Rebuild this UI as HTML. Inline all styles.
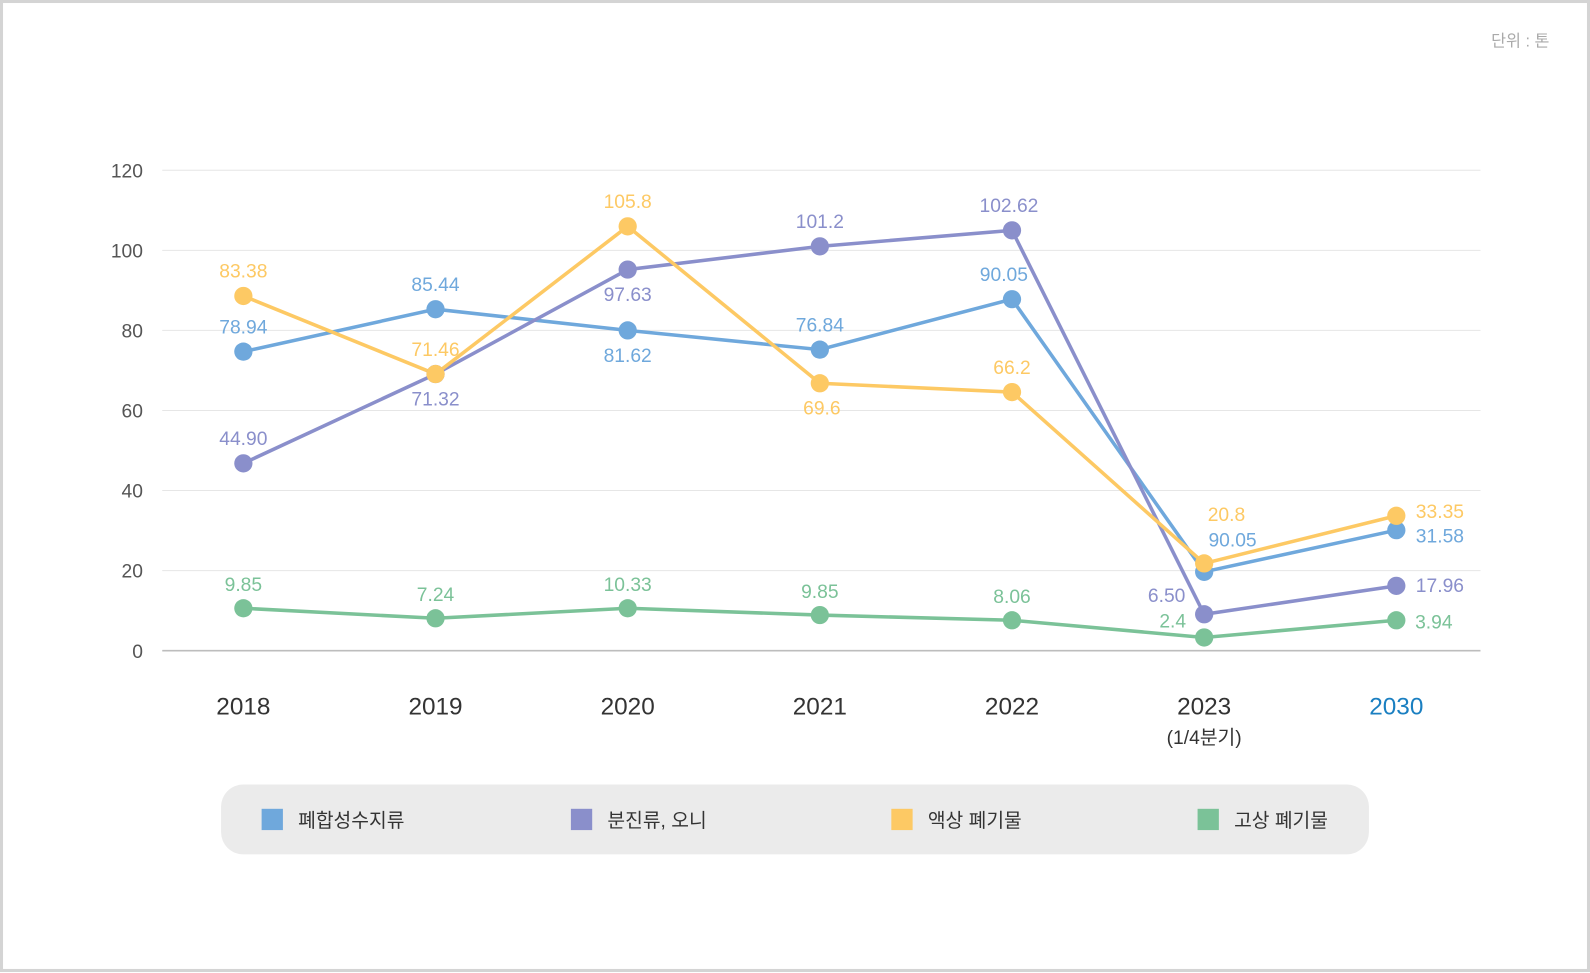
<!DOCTYPE html>
<html><head><meta charset="utf-8"><style>
html,body{margin:0;padding:0;background:#fff}
svg{display:block}
text{font-family:"Liberation Sans","Noto Sans CJK KR",sans-serif}
</style></head><body>
<svg id="chart" width="1590" height="973" viewBox="0 0 1568 960" preserveAspectRatio="none" xmlns="http://www.w3.org/2000/svg">
<rect x="1.5" y="1.5" width="1565" height="956" fill="#fff" stroke="#d4d4d4" stroke-width="3"/>
<text x="1528" y="46" font-size="16" fill="#aaa" text-anchor="end">단위 : 톤</text>
<g id="grid"></g><g id="series"></g><g id="labels"></g>
<rect x="218" y="774" width="1132" height="69" rx="22" fill="#ebebeb"/>
<g id="legend"></g>
</svg>
<script>
const categories=["2018","2019","2020","2021","2022","2023","2030"];
const yTicks=[0,20,40,60,80,100,120];
const seriesNames=["폐합성수지류","분진류, 오니","액상 폐기물","고상 폐기물"];
const blueValues=[74.7,85.3,80,75.2,87.8,19.7,30.1];
const purpleValues=[46.8,69.1,95.2,101,105,9.1,16.2];
const yellowValues=[88.6,69.1,106,66.8,64.6,21.8,33.7];
const greenValues=[10.6,8.1,10.6,8.9,7.6,3.3,7.6];
const blueLabels=["78.94","85.44","81.62","76.84","90.05","90.05","31.58"];
const purpleLabels=["44.90","71.32","97.63","101.2","102.62","6.50","17.96"];
const yellowLabels=["83.38","71.46","105.8","69.6","66.2","20.8","33.35"];
const greenLabels=["9.85","7.24","10.33","9.85","8.06","2.4","3.94"];
// label offsets (layout only)
const blueOff=[[0,-18],[0,-18],[0,31],[0,-18],[-8,-18],[28,-25],[43,12]];
const purpleOff=[[0,-18],[0,31],[0,31],[0,-18],[-3,-18],[-37,-12],[43,6]];
const yellowOff=[[0,-18],[0,-18],[0,-18],[2,31],[0,-18],[22,-42],[43,2]];
const greenOff=[[0,-17],[0,-17],[0,-17],[0,-17],[0,-17],[-31,-10],[37,8]];
const colors=["#6fa8dc","#8a8fcb","#fdc964","#7bc298"];
const NS="http://www.w3.org/2000/svg";
const x=i=>240+i*189.5;
const y=v=>642-v*474/120;
function mk(tag,attrs,parent){const e=document.createElementNS(NS,tag);for(const k in attrs)e.setAttribute(k,attrs[k]);parent.appendChild(e);return e;}
const grid=document.getElementById('grid');
yTicks.forEach(t=>{
  const l=mk('line',{x1:160,x2:1460,y1:y(t),y2:y(t),stroke:t===0?'#bdbdbd':'#e6e6e6','stroke-width':t===0?1.5:1},grid);
  
  
  const tx=mk('text',{x:141,y:y(t)+7,'font-size':19,fill:'#555','text-anchor':'end'},grid);
  tx.textContent=t;
  
  
});
categories.forEach((c,i)=>{
  const tx=mk('text',{x:x(i),y:705,'font-size':24,fill:i===6?'#1a7fc1':'#333','text-anchor':'middle'},grid);
  tx.textContent=c;
  
  
});
const sub=mk('text',{x:x(5),y:734,'font-size':19,fill:'#333','text-anchor':'middle'},grid);
sub.textContent='(1/4분기)';


const all=[[blueValues,blueLabels,blueOff],[purpleValues,purpleLabels,purpleOff],[yellowValues,yellowLabels,yellowOff],[greenValues,greenLabels,greenOff]];
const sg=document.getElementById('series'),lg=document.getElementById('labels');
all.forEach(([vals,labs,off],s)=>{
  const p=mk('polyline',{points:vals.map((v,i)=>x(i)+','+y(v)).join(' '),fill:'none',stroke:colors[s],'stroke-width':3.5},sg);
  
  
});
all.forEach(([vals,labs,off],s)=>{
  vals.forEach((v,i)=>{
    const c=mk('circle',{cx:x(i),cy:y(v),r:9,fill:colors[s]},sg);
    
    
    const t=mk('text',{x:x(i)+off[i][0],y:y(v)+off[i][1],'font-size':19,fill:colors[s],'text-anchor':'middle'},lg);
    t.textContent=labs[i];
    
    
  });
});
const legX=[258,563,879,1181];
const lgd=document.getElementById('legend');
seriesNames.forEach((n,i)=>{
  const r=mk('rect',{x:legX[i],y:798,width:21,height:21,fill:colors[i]},lgd);
  
  
  const t=mk('text',{x:legX[i]+36,y:816,'font-size':19,fill:'#333'},lgd);
  t.textContent=n;
  
  
});
</script>
</body></html>
